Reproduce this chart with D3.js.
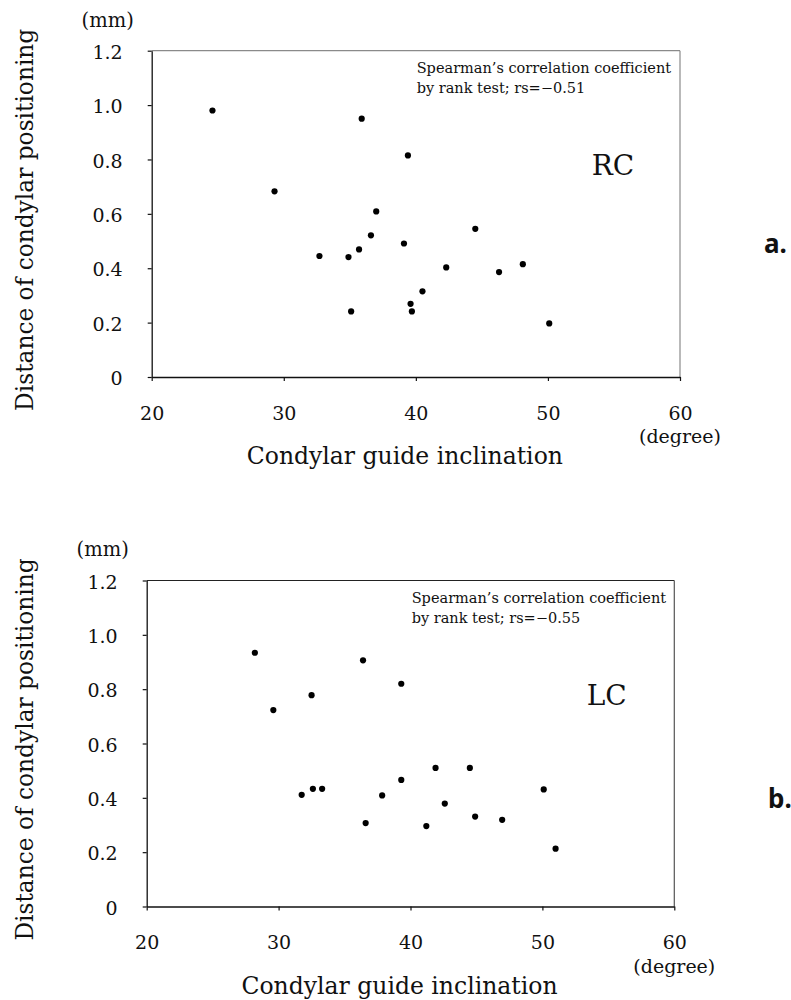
<!DOCTYPE html>
<html>
<head>
<meta charset="utf-8">
<script src="https://cdn.jsdelivr.net/npm/d3@7"></script>
<style>
  body { margin: 0; background: #fff; }
  text { font-family: "DejaVu Serif", serif; fill: #111; }
</style>
</head>
<body>
<svg id="chart" width="791" height="1000"></svg>
<script>
const xTicks = [20, 30, 40, 50, 60];
const yTicks = [0, 0.2, 0.4, 0.6, 0.8, 1.0, 1.2];

// right condyle (a.)
const rcAngle = [24.6, 35.9, 39.4, 29.3, 37.0, 44.5, 36.6, 39.1, 35.7, 32.7, 34.9, 42.3, 48.1, 46.3, 40.5, 39.6, 39.7, 35.1, 50.1];
const rcDist = [0.98, 0.95, 0.815, 0.683, 0.609, 0.545, 0.521, 0.491, 0.469, 0.445, 0.441, 0.403, 0.415, 0.386, 0.315, 0.269, 0.241, 0.241, 0.197];

// left condyle (b.)
const lcAngle = [28.2, 36.4, 39.3, 32.5, 29.6, 41.9, 44.5, 39.3, 50.1, 32.6, 33.3, 31.75, 37.85, 42.6, 44.9, 46.95, 36.6, 41.2, 51.0];
const lcDist = [0.934, 0.906, 0.82, 0.778, 0.723, 0.51, 0.51, 0.466, 0.431, 0.433, 0.433, 0.411, 0.409, 0.379, 0.331, 0.319, 0.307, 0.296, 0.213];

const panelNames = ['RC', 'LC'];
const panelRs = ['−0.51', '−0.55'];
const panelLetters = ['a.', 'b.'];

const svg = d3.select('#chart');

// frame of each panel in px
const boxes = [
  { left: 151.7, right: 680, top: 50.7, bottom: 377, frame: '#8a8a8a', frameTop: '#8a8a8a', letterX: 764, letterY: 253 },
  { left: 146.7, right: 674.3, top: 580.5, bottom: 906.5, frame: '#555', frameTop: '#222', letterX: 768, letterY: 808 }
];

function drawPanel(i, angle, dist) {
  const box = boxes[i];
  const x = d3.scaleLinear().domain([20, 60]).range([box.left, box.right]);
  const y = d3.scaleLinear().domain([0, 1.2]).range([box.bottom, box.top]);
  const g = svg.append('g');

  // top and right border
  g.append('line')
    .attr('x1', box.left).attr('x2', box.right)
    .attr('y1', box.top).attr('y2', box.top)
    .attr('stroke', box.frameTop).attr('stroke-width', 1.2);
  g.append('line')
    .attr('x1', box.right).attr('x2', box.right)
    .attr('y1', box.top).attr('y2', box.bottom)
    .attr('stroke', box.frame).attr('stroke-width', 1.2);

  const xAxis = g.append('g')
    .attr('transform', `translate(0,${box.bottom})`)
    .call(d3.axisBottom(x).tickValues(xTicks).tickSize(4).tickSizeOuter(0).tickFormat(d3.format('d')));
  xAxis.selectAll('text')
    .attr('y', 36).attr('dy', '0.35em')
    .style('font-size', '19px');

  const yAxis = g.append('g')
    .attr('transform', `translate(${box.left},0)`)
    .call(d3.axisLeft(y).tickValues(yTicks).tickSize(4).tickSizeOuter(0)
      .tickFormat(d => d === 0 ? '0' : d3.format('.1f')(d)));
  yAxis.selectAll('text')
    .attr('x', -29).attr('dy', '0.4em')
    .style('font-size', '19px');

  [xAxis, yAxis].forEach(a => {
    a.select('.domain').attr('stroke', '#111').attr('stroke-width', 1.3);
    a.selectAll('.tick line').attr('stroke', '#111').attr('stroke-width', 1.2);
    a.selectAll('text').style('font-family', '"DejaVu Serif", serif').attr('fill', '#111');
  });

  g.selectAll('circle')
    .data(angle.map((a, k) => [a, dist[k]]))
    .enter().append('circle')
    .attr('cx', d => x(d[0]))
    .attr('cy', d => y(d[1]))
    .attr('r', 3.1)
    .attr('fill', '#000');

  // units
  g.append('text')
    .attr('x', box.left - 44).attr('y', box.top - 31)
    .attr('dy', '0.35em')
    .attr('text-anchor', 'middle')
    .style('font-size', '19.5px')
    .text('(mm)');
  g.append('text')
    .attr('x', box.right).attr('y', box.bottom + 59.5)
    .attr('dy', '0.35em')
    .attr('text-anchor', 'middle')
    .style('font-size', '19px')
    .text('(degree)');

  // axis titles
  g.append('text')
    .attr('x', (box.left + box.right) / 2 - 11)
    .attr('y', box.bottom + 87)
    .attr('text-anchor', 'middle')
    .style('font-size', '23.5px')
    .text('Condylar guide inclination');
  g.append('text')
    .attr('transform', `translate(33,${(box.top + box.bottom) / 2 + 6}) rotate(-90)`)
    .attr('text-anchor', 'middle')
    .style('font-size', '23.3px')
    .text('Distance of condylar positioning');

  // correlation note
  const note = g.append('text')
    .attr('x', box.left + 265)
    .attr('y', box.top + 22.6)
    .style('font-size', '14.5px');
  note.append('tspan').text('Spearman’s correlation coefficient');
  note.append('tspan').attr('x', box.left + 265).attr('dy', 20)
    .text('by rank test; rs=' + panelRs[i]);

  g.append('text')
    .attr('x', box.left + 440)
    .attr('y', box.top + 124)
    .style('font-size', '28px')
    .text(panelNames[i]);

  svg.append('text')
    .attr('x', box.letterX)
    .attr('y', box.letterY)
    .style('font-family', '"Noto Sans", sans-serif')
    .style('font-weight', 'bold')
    .style('font-size', '26px')
    .text(panelLetters[i]);
}

drawPanel(0, rcAngle, rcDist);
drawPanel(1, lcAngle, lcDist);
</script>
</body>
</html>
